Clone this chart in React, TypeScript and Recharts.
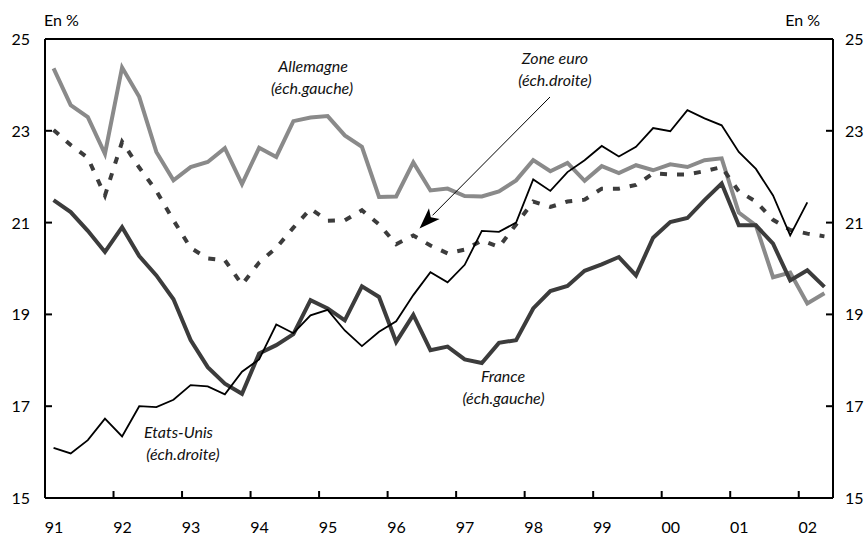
import React from 'react';
import { LineChart, Line, XAxis, YAxis, ReferenceLine } from 'recharts';

// Quarterly data, 1991 Q1 -> 2002 Q2 (46 quarters)
const yearLabels = ['91', '92', '93', '94', '95', '96', '97', '98', '99', '00', '01', '02'];
const yTicks = [15, 17, 19, 21, 23, 25];

const allemagne = [
  24.36, 23.56, 23.30, 22.50, 24.38, 23.74, 22.54, 21.92,
  22.21, 22.32, 22.62, 21.84, 22.63, 22.43, 23.21, 23.29,
  23.32, 22.90, 22.65, 21.56, 21.57, 22.31, 21.70, 21.74,
  21.58, 21.57, 21.68, 21.92, 22.36, 22.12, 22.30, 21.91,
  22.23, 22.08, 22.25, 22.14, 22.27, 22.21, 22.36, 22.40,
  21.22, 20.94, 19.81, 19.91, 19.24, 19.46,
];

const france = [
  21.49, 21.23, 20.82, 20.36, 20.90, 20.27, 19.85, 19.33,
  18.44, 17.85, 17.49, 17.27, 18.15, 18.33, 18.57, 19.31,
  19.13, 18.87, 19.61, 19.38, 18.40, 18.99, 18.22, 18.30,
  18.02, 17.94, 18.38, 18.44, 19.13, 19.51, 19.62, 19.95,
  20.09, 20.25, 19.85, 20.67, 21.01, 21.10, 21.49, 21.85,
  20.94, 20.94, 20.54, 19.74, 19.96, 19.60,
];

const zoneEuro = [
  23.02, 22.69, 22.41, 21.59, 22.76, 22.20, 21.69, 21.05,
  20.45, 20.22, 20.18, 19.65, 20.13, 20.45, 20.89, 21.30,
  21.04, 21.05, 21.27, 20.96, 20.53, 20.72, 20.50, 20.33,
  20.41, 20.61, 20.47, 20.96, 21.46, 21.34, 21.46, 21.50,
  21.74, 21.74, 21.82, 22.07, 22.05, 22.05, 22.12, 22.21,
  21.68, 21.46, 21.06, 20.84, 20.76, 20.70,
];

const etatsUnis: (number | null)[] = [
  16.09, 15.97, 16.26, 16.73, 16.34, 17.00, 16.98, 17.14,
  17.46, 17.43, 17.26, 17.75, 18.02, 18.78, 18.59, 18.98,
  19.10, 18.65, 18.31, 18.62, 18.85, 19.42, 19.92, 19.70,
  20.08, 20.82, 20.80, 21.00, 21.94, 21.69, 22.10, 22.36,
  22.67, 22.44, 22.65, 23.06, 22.99, 23.45, 23.27, 23.12,
  22.54, 22.17, 21.59, 20.72, 21.44, null,
];

const data = allemagne.map((v, i) => ({
  q: i + 0.5,
  allemagne: v,
  france: france[i],
  zoneEuro: zoneEuro[i],
  etatsUnis: etatsUnis[i],
}));

const yearTicks = yearLabels.map((_, i) => i * 4);

const FONT = 'Lato, "Open Sans", sans-serif';

const XTick = (props: any) => {
  const { x, y, payload } = props;
  const v = payload.value as number;
  const label = yearLabels[Math.round(v / 4)];
  return (
    <g>
      {v > 0 && <line x1={x} x2={x} y1={y} y2={y - 7} stroke="#000" strokeWidth={2} />}
      <text x={x + 9} y={y + 35} textAnchor="middle" fontFamily={FONT} fontSize={16} fill="#000">
        {label}
      </text>
    </g>
  );
};

const LeftTick = (props: any) => {
  const { x, y, payload } = props;
  const v = payload.value as number;
  return (
    <g>
      {v > 15 && v < 25 && <line x1={x} x2={x + 7} y1={y} y2={y} stroke="#000" strokeWidth={2} />}
      <text x={x - 15} y={y + 6} textAnchor="end" fontFamily={FONT} fontSize={16} fill="#000">
        {v}
      </text>
    </g>
  );
};

const RightTick = (props: any) => {
  const { x, y, payload } = props;
  const v = payload.value as number;
  return (
    <g>
      {v > 15 && v < 25 && <line x1={x} x2={x - 7} y1={y} y2={y} stroke="#000" strokeWidth={2} />}
      <text x={x + 12} y={y + 6} textAnchor="start" fontFamily={FONT} fontSize={16} fill="#000">
        {v}
      </text>
    </g>
  );
};

// arrow geometry (annotation)
const arrowStart = { x: 550, y: 97 };
const arrowTip = { x: 419.5, y: 228.5 };

function arrowHead() {
  const dx = arrowTip.x - arrowStart.x;
  const dy = arrowTip.y - arrowStart.y;
  const len = Math.sqrt(dx * dx + dy * dy);
  const ux = dx / len;
  const uy = dy / len;
  const px = -uy;
  const py = ux;
  const L = 21;
  const W = 7.5;
  const bx = arrowTip.x - ux * L;
  const by = arrowTip.y - uy * L;
  const nx = arrowTip.x - ux * (L - 5);
  const ny = arrowTip.y - uy * (L - 5);
  return `${arrowTip.x},${arrowTip.y} ${bx + px * W},${by + py * W} ${nx},${ny} ${bx - px * W},${by - py * W}`;
}

const labelStyle = { fontFamily: FONT, fontSize: 16, fontStyle: 'italic' as const, fill: '#111' };

export default function App() {
  return (
    <div style={{ position: 'absolute', left: 0, top: 0, width: 867, height: 535, background: '#fff' }}>
      <LineChart
        width={867}
        height={535}
        data={data}
        margin={{ top: 39, right: 0, bottom: 0, left: 0 }}
      >
        <XAxis
          dataKey="q"
          type="number"
          domain={[0, 46]}
          ticks={yearTicks}
          interval={0}
          height={37}
          tickSize={0}
          tickMargin={0}
          tickLine={false}
          axisLine={{ stroke: '#000', strokeWidth: 2 }}
          tick={<XTick />}
        />
        <YAxis
          yAxisId="left"
          orientation="left"
          domain={[15, 25]}
          ticks={yTicks}
          interval={0}
          width={45}
          tickSize={0}
          tickMargin={0}
          tickLine={false}
          axisLine={{ stroke: '#000', strokeWidth: 2 }}
          tick={<LeftTick />}
        />
        <YAxis
          yAxisId="right"
          orientation="right"
          domain={[15, 25]}
          ticks={yTicks}
          interval={0}
          width={34}
          tickSize={0}
          tickMargin={0}
          tickLine={false}
          axisLine={{ stroke: '#000', strokeWidth: 2 }}
          tick={<RightTick />}
        />
        <ReferenceLine yAxisId="left" y={25} stroke="#000" strokeWidth={2} />
        <Line
          yAxisId="left"
          type="linear"
          dataKey="allemagne"
          stroke="#8a8a8a"
          strokeWidth={4}
          dot={false}
          activeDot={false}
          isAnimationActive={false}
        />
        <Line
          yAxisId="left"
          type="linear"
          dataKey="france"
          stroke="#3c3c3c"
          strokeWidth={4}
          dot={false}
          activeDot={false}
          isAnimationActive={false}
        />
        <Line
          yAxisId="right"
          type="linear"
          dataKey="zoneEuro"
          stroke="#3c3c3c"
          strokeWidth={4}
          strokeDasharray="7 10"
          dot={false}
          activeDot={false}
          isAnimationActive={false}
        />
        <Line
          yAxisId="right"
          type="linear"
          dataKey="etatsUnis"
          stroke="#000"
          strokeWidth={1.8}
          dot={false}
          activeDot={false}
          isAnimationActive={false}
        />
      </LineChart>
      <svg
        width={867}
        height={535}
        style={{ position: 'absolute', left: 0, top: 0, pointerEvents: 'none' }}
      >
        <text x={44} y={26} fontFamily={FONT} fontSize={16} fill="#000">En %</text>
        <text x={820} y={26} textAnchor="end" fontFamily={FONT} fontSize={16} fill="#000">En %</text>

        <text x={313} y={71.5} textAnchor="middle" {...labelStyle}>Allemagne</text>
        <text x={312} y={94} textAnchor="middle" {...labelStyle}>(éch.gauche)</text>

        <text x={555} y={64} textAnchor="middle" {...labelStyle}>Zone euro</text>
        <text x={555} y={86} textAnchor="middle" {...labelStyle}>(éch.droite)</text>

        <text x={503} y={381.5} textAnchor="middle" {...labelStyle}>France</text>
        <text x={503.5} y={403.5} textAnchor="middle" {...labelStyle}>(éch.gauche)</text>

        <text x={178.5} y={437.5} textAnchor="middle" {...labelStyle}>Etats-Unis</text>
        <text x={183} y={460} textAnchor="middle" {...labelStyle}>(éch.droite)</text>

        <line
          x1={arrowStart.x}
          y1={arrowStart.y}
          x2={arrowTip.x + (arrowStart.x - arrowTip.x) * 0.1}
          y2={arrowTip.y + (arrowStart.y - arrowTip.y) * 0.1}
          stroke="#000"
          strokeWidth={1}
        />
        <polygon points={arrowHead()} fill="#000" />
      </svg>
    </div>
  );
}
